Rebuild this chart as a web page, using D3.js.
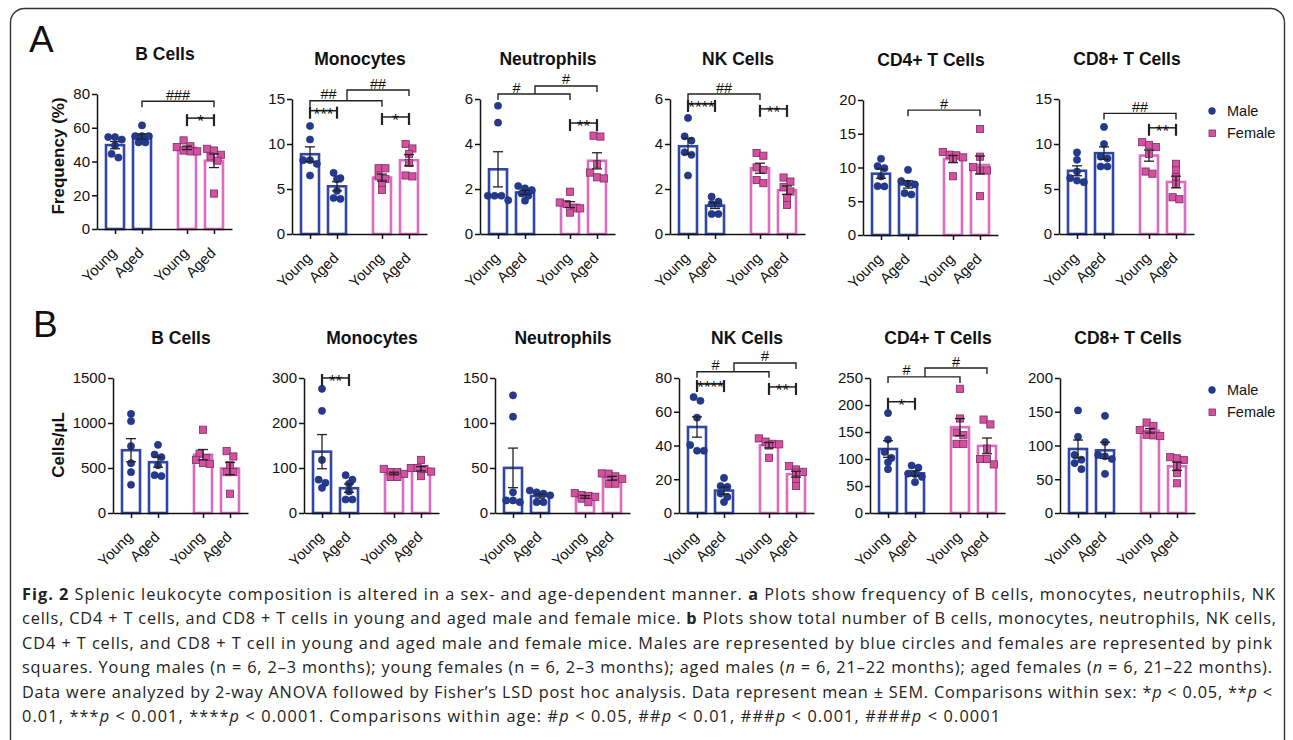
<!DOCTYPE html>
<html lang="en">
<head>
<meta charset="UTF-8">
<title>Fig. 2</title>
<script src="https://cdn.jsdelivr.net/npm/d3@7"></script>
<style>
    body {margin: 0; background: #fff;}
    svg text {font-family: "Liberation Sans", Arial, sans-serif; fill: #111;}
    .cap text {font-family: "Open Sans", "Noto Sans", sans-serif; fill: #222;}
</style>
</head>
<body>
<script>
    const groups = ["Young", "Aged", "Young", "Aged"];
    const sexOf  = ["Male", "Male", "Female", "Female"];
    const titles = ["B Cells", "Monocytes", "Neutrophils", "NK Cells", "CD4+ T Cells", "CD8+ T Cells"];

    // A: frequency (%) -- each panel: [male young, male aged, female young, female aged]
    const freqMax   = [80, 15, 6, 6, 20, 15];
    const freqTicks = [[0, 20, 40, 60, 80], [0, 5, 10, 15], [0, 2, 4, 6], [0, 2, 4, 6], [0, 5, 10, 15, 20], [0, 5, 10, 15]];
    const aBcell = [[54.5, 54.5, 53, 49.5, 44.5, 42.3], [61.4, 55, 55, 55, 51.3, 51.3], [52.5, 49, 48.5, 46, 46, 46.5], [47.5, 46.5, 44, 43, 40.5, 21]];
    const aMono  = [[12.0, 10.5, 8.2, 8.2, 7.8, 6.5], [6.8, 6.2, 6.1, 4.8, 3.9, 4.0], [7.3, 7.3, 6.4, 6.1, 5.6, 4.9], [10.0, 9.5, 8.9, 7.9, 6.4, 6.5]];
    const aNeut  = [[5.7, 4.95, 1.7, 1.7, 1.7, 1.5], [2.03, 2.13, 1.95, 1.8, 1.48, 1.7], [1.88, 1.33, 1.4, 1.14, 1.14, 0.95], [4.37, 4.33, 3.1, 2.73, 2.47, 2.52]];
    const aNK    = [[5.16, 4.34, 4.15, 3.63, 3.52, 2.6], [1.66, 1.44, 1.34, 1.34, 0.89, 0.89], [3.48, 3.6, 2.85, 2.96, 2.26, 2.4], [2.33, 2.51, 1.89, 2.08, 1.59, 1.29]];
    const aCD4   = [[11.3, 10.2, 9.9, 8.67, 7.2, 7.24], [9.65, 8.0, 7.6, 7.5, 6.0, 6.2], [11.8, 11.9, 12.3, 11.3, 11.5, 8.7], [15.7, 11.6, 10.05, 9.56, 9.56, 5.76]];
    const aCD8   = [[9.06, 8.24, 6.94, 5.76, 6.2, 5.94], [11.9, 10.0, 8.6, 8.4, 7.5, 7.5], [9.9, 10.2, 9.65, 8.9, 6.7, 6.94], [7.8, 7.06, 6.3, 5.57, 3.86, 4.08]];

    // B: cells/uL
    const countMax   = [1500, 300, 150, 80, 250, 200];
    const countTicks = [[0, 500, 1000, 1500], [0, 100, 200, 300], [0, 50, 100, 150], [0, 20, 40, 60, 80], [0, 50, 100, 150, 200, 250], [0, 50, 100, 150, 200]];
    const bBcell = [[1101, 1020, 743, 554, 454, 314], [757, 650, 620, 530, 420, 410], [925, 660, 610, 590, 555, 545], [687, 628, 530, 454, 454, 214]];
    const bMono  = [[276, 227, 118, 74, 67, 56], [74, 84, 48, 30, 30, 65], [91, 98, 80, 80, 87, 91], [118, 100, 100, 98, 92, 82]];
    const bNeut  = [[130.7, 107, 23, 12, 14, 14], [23, 25, 12, 12, 19.6, 21.5], [20, 19, 22, 16, 12, 18], [43.7, 44, 40.7, 38, 32.6, 32.6]];
    const bNK    = [[66.5, 68.7, 56.5, 36.9, 36.9, 40.3], [20.8, 15.5, 16, 11.5, 9.5, 6.5], [44.2, 42.3, 41, 40.7, 40, 32.7], [27.8, 25.8, 24.4, 24, 20, 16]];
    const bCD4   = [[185, 136, 113, 102, 94, 81], [84, 88, 73, 72, 67, 57], [230, 175, 144, 149, 128, 128], [173, 164, 119, 100, 100, 90]];
    const bCD8   = [[152, 113, 86, 79, 74, 65], [144, 105, 86, 84, 80, 58], [134, 129, 123, 116, 115, 114], [82.6, 81, 78.6, 70, 59, 44]];

    // significance brackets: a/b = group index, at = height in data units
    const aBcellSig = [{a: 1, b: 3, at: 75.7, t: "###"}, {a: 2, b: 3, at: 65.7, t: "*"}];
    const aMonoSig  = [{a: 0, b: 1, at: 13.7, t: "***"}, {a: 2, b: 3, at: 13.0, t: "*"}, {a: 0, b: 2, at: 14.8, t: "##"}, {a: 1, b: 3, at: 16.0, t: "##"}];
    const aNeutSig  = [{a: 0, b: 2, at: 6.22, t: "#"}, {a: 1, b: 3, at: 6.58, t: "#"}, {a: 2, b: 3, at: 4.93, t: "**"}];
    const aNKSig    = [{a: 0, b: 1, at: 5.78, t: "****"}, {a: 2, b: 3, at: 5.56, t: "**"}, {a: 0, b: 2, at: 6.22, t: "##"}];
    const aCD4Sig   = [{a: 1, b: 3, at: 18.5, t: "#"}];
    const aCD8Sig   = [{a: 1, b: 3, at: 13.4, t: "##"}, {a: 2, b: 3, at: 11.8, t: "**"}];
    const bMonoSig  = [{a: 0, b: 1, at: 300, t: "**"}];
    const bNKSig    = [{a: 0, b: 2, at: 83.7, t: "#"}, {a: 1, b: 3, at: 88.9, t: "#"}, {a: 0, b: 1, at: 76.4, t: "****"}, {a: 2, b: 3, at: 74.7, t: "**"}];
    const bCD4Sig   = [{a: 0, b: 2, at: 252, t: "#"}, {a: 1, b: 3, at: 268.5, t: "#"}, {a: 0, b: 1, at: 206, t: "*"}];

    const pos = [0.667, 1.667, 3.333, 4.333];

    const captionLines = [
        [["Fig. 2", "b"], [" Splenic leukocyte composition is altered in a sex- and age-dependent manner. ", ""], ["a", "b"], [" Plots show frequency of B cells, monocytes, neutrophils, NK", ""]],
        [["cells, CD4 + T cells, and CD8 + T cells in young and aged male and female mice. ", ""], ["b", "b"], [" Plots show total number of B cells, monocytes, neutrophils, NK cells,", ""]],
        [["CD4 + T cells, and CD8 + T cell in young and aged male and female mice. Males are represented by blue circles and females are represented by pink", ""]],
        [["squares. Young males (n = 6, 2–3 months); young females (n = 6, 2–3 months); aged males (", ""], ["n", "i"], [" = 6, 21–22 months); aged females (", ""], ["n", "i"], [" = 6, 21–22 months).", ""]],
        [["Data were analyzed by 2-way ANOVA followed by Fisher’s LSD post hoc analysis. Data represent mean ± SEM. Comparisons within sex: *", ""], ["p", "i"], [" < 0.05, **", ""], ["p", "i"], [" <", ""]],
        [["0.01, ***", ""], ["p", "i"], [" < 0.001, ****", ""], ["p", "i"], [" < 0.0001. Comparisons within age: #", ""], ["p", "i"], [" < 0.05, ##", ""], ["p", "i"], [" < 0.01, ###", ""], ["p", "i"], [" < 0.001, ####", ""], ["p", "i"], [" < 0.0001", ""]]
    ];
    const captionWidths = [1253, 1254, 1250, 1250, 1250, 978];

    const width = 1293, height = 740;
    const svg = d3.select("body").append("svg").attr("width", width).attr("height", height);

    const colors = {
        Male:   {bar: "#3047a6", pt: "#243a8f", ptStroke: "#1a2c70"},
        Female: {bar: "#dc6cbf", pt: "#d4519f", ptStroke: "#7a2c63"}
    };

    // figure frame
    svg.append("rect").attr("x", 10.5).attr("y", 8.5).attr("width", 1274).attr("height", 800)
            .attr("rx", 14).attr("fill", "none").attr("stroke", "#333").attr("stroke-width", 1.4);

    const rowA = {lefts: [97, 292, 480, 670, 863, 1059], y0s: [229, 234, 234, 234, 235, 234]};
    const rowB = {lefts: [113, 304, 495, 679, 870, 1060], y0s: [513, 513, 513, 513, 513, 513]};

    const freqData = [aBcell, aMono, aNeut, aNK, aCD4, aCD8];
    const freqSig  = [aBcellSig, aMonoSig, aNeutSig, aNKSig, aCD4Sig, aCD8Sig];
    const countData = [bBcell, bMono, bNeut, bNK, bCD4, bCD8];
    const countSig  = [[], bMonoSig, [], bNKSig, bCD4Sig, []];

    function sem(a) { return d3.deviation(a) / Math.sqrt(a.length); }

    // simple row based swarm so that dots at a similar height spread sideways
    function swarm(vals, y, xc, d) {
        const sorted = vals.map(v => ({v: v, py: y(v)})).sort((p, q) => p.py - q.py);
        const rows = [];
        sorted.forEach(o => {
            const r = rows[rows.length - 1];
            if (r && Math.abs(o.py - r[0].py) < d * 0.9 && r.length < 4) r.push(o);
            else rows.push([o]);
        });
        const out = [];
        rows.forEach(r => r.forEach((o, j) => out.push({x: xc + (j - (r.length - 1) / 2) * d, y: o.py})));
        return out;
    }

    function drawPanel(p) {
        const x = d3.scaleLinear().domain([0, 5]).range([p.left, p.left + 135]);
        const y = d3.scaleLinear().domain([0, p.max]).range([p.y0, p.y0 - 135]);
        const g = svg.append("g");

        g.append("text").attr("x", p.left + 68).attr("y", p.y0 - 169)
                .attr("text-anchor", "middle").style("font-weight", "bold").style("font-size", "17.5px")
                .text(p.title);

        const bw = x(0.667) - x(0);
        p.data.forEach((vals, i) => {
            const c = colors[sexOf[i]];
            const m = d3.mean(vals);
            g.append("rect").attr("x", x(pos[i]) - bw / 2).attr("y", y(m))
                    .attr("width", bw).attr("height", y(0) - y(m))
                    .attr("fill", "#fff").attr("stroke", c.bar).attr("stroke-width", 2.6);
        });

        p.data.forEach((vals, i) => {
            const c = colors[sexOf[i]];
            const pts = swarm(vals, y, x(pos[i]), 6.8);
            if (sexOf[i] === "Male") {
                g.selectAll(null).data(pts).enter().append("circle")
                        .attr("cx", d => d.x).attr("cy", d => d.y).attr("r", 3.6)
                        .attr("fill", c.pt).attr("stroke", c.ptStroke).attr("stroke-width", 0.6);
            } else {
                g.selectAll(null).data(pts).enter().append("rect")
                        .attr("x", d => d.x - 3.6).attr("y", d => d.y - 3.6).attr("width", 7.2).attr("height", 7.2)
                        .attr("fill", c.pt).attr("stroke", c.ptStroke).attr("stroke-width", 0.8);
            }
        });

        // mean +/- SEM
        p.data.forEach((vals, i) => {
            const m = d3.mean(vals), s = sem(vals), xc = x(pos[i]);
            const eb = g.append("g").attr("stroke", "#222").attr("stroke-width", 1.3);
            eb.append("line").attr("x1", xc).attr("x2", xc).attr("y1", y(m - s)).attr("y2", y(m + s));
            [m - s, m + s].forEach(v => eb.append("line").attr("x1", xc - 5).attr("x2", xc + 5).attr("y1", y(v)).attr("y2", y(v)));
        });

        const ya = g.append("g").attr("transform", `translate(${p.left},0)`)
                .call(d3.axisLeft(y).tickValues(p.ticks).tickFormat(d3.format("d")).tickSize(5).tickSizeOuter(0).tickPadding(2));
        const xa = g.append("g").attr("transform", `translate(0,${p.y0})`)
                .call(d3.axisBottom(x).tickValues(pos).tickFormat((d, i) => groups[i]).tickSize(5).tickSizeOuter(0));
        [ya, xa].forEach(a => {
            a.attr("font-family", null).attr("font-size", null);
            a.selectAll("path, line").attr("stroke", "#111").attr("stroke-width", 1.5);
            a.selectAll("text").style("font-size", "15px");
        });
        xa.selectAll("text").attr("y", null).attr("dy", null).attr("text-anchor", "end")
                .attr("transform", "translate(2,25) rotate(-45)").style("font-size", "14.8px");

        drawBrackets(g, p.sig, x, y);

        if (p.legend) {
            const lg = g.append("g");
            lg.append("circle").attr("cx", 1212).attr("cy", p.y0 - 123).attr("r", 3.4)
                    .attr("fill", colors.Male.pt).attr("stroke", colors.Male.ptStroke).attr("stroke-width", 0.6);
            lg.append("rect").attr("x", 1209).attr("y", p.y0 - 101 - 3).attr("width", 6.4).attr("height", 6.4)
                    .attr("fill", colors.Female.pt).attr("stroke", colors.Female.ptStroke).attr("stroke-width", 0.8);
            lg.append("text").attr("x", 1227).attr("y", p.y0 - 118).style("font-size", "14.5px").text("Male");
            lg.append("text").attr("x", 1227).attr("y", p.y0 - 96).style("font-size", "14.5px").text("Female");
        }
    }

    function drawBrackets(g, sig, x, y) {
        const hash = sig.filter(s => s.t[0] === "#").map(s => ({s: s, x1: x(pos[s.a]), x2: x(pos[s.b]), yy: y(s.at)}));
        const star = sig.filter(s => s.t[0] === "*");
        const bg = g.append("g").attr("stroke", "#222").attr("fill", "none");

        star.forEach(s => {
            const x1 = x(pos[s.a]), x2 = x(pos[s.b]), yy = y(s.at);
            bg.append("line").attr("x1", x1).attr("x2", x2).attr("y1", yy).attr("y2", yy).attr("stroke-width", 1.5);
            [x1, x2].forEach(xx => bg.append("line").attr("x1", xx).attr("x2", xx)
                    .attr("y1", yy - 4).attr("y2", yy + 8).attr("stroke-width", 2.2));
            g.append("text").attr("x", (x1 + x2) / 2).attr("y", yy + 9).attr("text-anchor", "middle")
                    .style("font-size", "17px").text(s.t);
        });

        // left leg of an upper bracket lands on the bracket below it
        hash.forEach(h => {
            h.l = h.x1; h.lb = h.yy + 6;
            hash.forEach(o => {
                if (o !== h && o.yy > h.yy && h.x1 > o.x1 && h.x1 < o.x2) { h.l = h.x1 + 10; h.lb = o.yy; }
            });
        });
        hash.forEach(h => {
            bg.append("path").attr("stroke-width", 1.4)
                    .attr("d", `M${h.l},${h.lb}V${h.yy}H${h.x2}V${h.yy + 6}`);
            let cx = (h.l + h.x2) / 2;
            hash.forEach(o => { if (o !== h && o.l > h.l && o.l < h.x2 && o.yy < h.yy) cx = (h.l + o.l) / 2; });
            g.append("text").attr("x", cx).attr("y", h.yy - 1.5).attr("text-anchor", "middle")
                    .style("font-size", "14.5px").text(h.s.t);
        });
    }

    titles.forEach((t, i) => {
        drawPanel({left: rowA.lefts[i], y0: rowA.y0s[i], max: freqMax[i], ticks: freqTicks[i], title: t,
            data: freqData[i], sig: freqSig[i], legend: i === 5});
        drawPanel({left: rowB.lefts[i], y0: rowB.y0s[i], max: countMax[i], ticks: countTicks[i], title: t,
            data: countData[i], sig: countSig[i], legend: i === 5});
    });

    // panel letters and y titles
    svg.append("text").attr("x", 29).attr("y", 52).style("font-size", "37px").text("A");
    svg.append("text").attr("x", 33).attr("y", 337).style("font-size", "37px").text("B");
    svg.append("text").attr("transform", "translate(64,156) rotate(-90)").attr("text-anchor", "middle")
            .style("font-weight", "bold").style("font-size", "17px").text("Frequency (%)");
    svg.append("text").attr("transform", "translate(64,445) rotate(-90)").attr("text-anchor", "middle")
            .style("font-weight", "bold").style("font-size", "17px").text("Cells/µL");

    // caption
    const cap = svg.append("g").attr("class", "cap");
    captionLines.forEach((segs, i) => {
        const t = cap.append("text").attr("x", 22).attr("y", 600 + i * 24.4).style("font-size", "16.3px")
                .attr("textLength", captionWidths[i]).attr("lengthAdjust", "spacing");
        segs.forEach(s => {
            t.append("tspan").style("font-weight", s[1] === "b" ? "bold" : null)
                    .style("font-style", s[1] === "i" ? "italic" : null).text(s[0]);
        });
    });
</script>
</body>
</html>
